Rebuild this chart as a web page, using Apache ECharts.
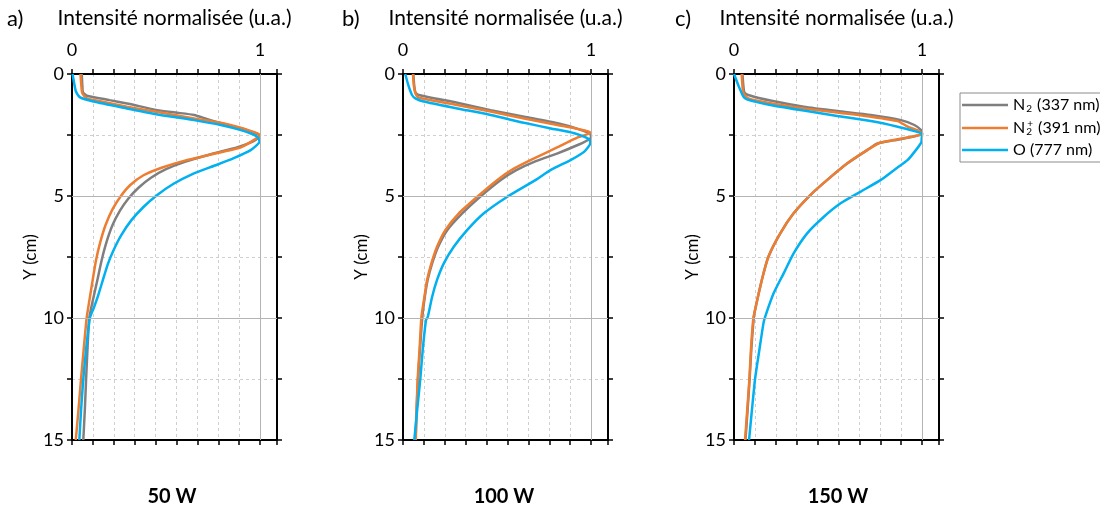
<!DOCTYPE html>
<html><head><meta charset="utf-8">
<script src="https://cdn.jsdelivr.net/npm/echarts@6/dist/echarts.min.js"></script>
<style>html,body{margin:0;padding:0;background:#fff}#c{width:1100px;height:509px}</style>
</head><body><div id="c"></div>
<script>
// ---- data: [intensity, Y (cm)] ----
const a_N2 = [[0.052,0],[0.055,0.5],[0.058,0.75],[0.079,0.89],[0.2,1.07],[0.3,1.22],[0.453,1.48],[0.55,1.58],[0.649,1.68],[0.72,1.85],[0.809,2.05],[0.898,2.22],[0.96,2.38],[0.995,2.5],[0.99,2.62],[0.961,2.77],[0.881,3.0],[0.738,3.29],[0.6,3.6],[0.5,3.9],[0.42,4.25],[0.355,4.65],[0.3,5.1],[0.255,5.6],[0.215,6.2],[0.183,6.9],[0.158,7.62],[0.135,8.44],[0.11,9.3],[0.092,10.0],[0.084,11],[0.075,12.5],[0.068,13.8],[0.06,15]];
const a_N2p = [[0.045,0],[0.05,0.5],[0.055,0.79],[0.079,1.0],[0.15,1.12],[0.292,1.34],[0.471,1.58],[0.649,1.82],[0.827,2.06],[0.952,2.34],[1.0,2.5],[0.968,2.7],[0.898,3.0],[0.738,3.3],[0.6,3.55],[0.48,3.83],[0.38,4.15],[0.31,4.55],[0.26,5.0],[0.215,5.55],[0.178,6.2],[0.15,6.9],[0.128,7.62],[0.11,8.44],[0.092,9.3],[0.078,10.0],[0.062,11.3],[0.048,12.5],[0.034,13.8],[0.02,15]];
const a_O = [[0.003,0],[0.012,0.4],[0.021,0.72],[0.043,0.96],[0.114,1.13],[0.292,1.41],[0.471,1.68],[0.649,1.89],[0.791,2.09],[0.898,2.3],[0.965,2.48],[0.988,2.6],[0.997,2.77],[0.952,3.11],[0.86,3.45],[0.76,3.75],[0.64,4.1],[0.54,4.5],[0.455,4.95],[0.38,5.45],[0.315,6.0],[0.262,6.6],[0.222,7.2],[0.19,7.8],[0.162,8.5],[0.138,9.1],[0.115,9.6],[0.095,10.0],[0.076,11.2],[0.06,12.5],[0.048,13.8],[0.039,15]];

const b_N2 = [[0.055,0],[0.06,0.5],[0.066,0.75],[0.083,0.86],[0.288,1.18],[0.466,1.48],[0.644,1.75],[0.822,2.02],[0.929,2.25],[1.0,2.5],[0.996,2.64],[0.929,2.91],[0.822,3.25],[0.697,3.6],[0.6,3.95],[0.52,4.34],[0.41,5.03],[0.315,5.71],[0.236,6.39],[0.187,7.08],[0.155,7.76],[0.131,8.44],[0.116,9.13],[0.103,9.95],[0.09,11.3],[0.08,12.5],[0.072,13.8],[0.067,15]];
const b_N2p = [[0.053,0],[0.058,0.5],[0.066,0.79],[0.083,0.96],[0.288,1.27],[0.466,1.54],[0.644,1.82],[0.822,2.09],[0.929,2.25],[1.0,2.4],[0.929,2.6],[0.822,3.0],[0.697,3.46],[0.585,3.9],[0.502,4.34],[0.395,5.03],[0.297,5.71],[0.226,6.39],[0.181,7.08],[0.151,7.76],[0.128,8.44],[0.114,9.13],[0.098,9.95],[0.088,11.3],[0.078,12.5],[0.072,13.8],[0.068,15]];
const b_O = [[0.012,0],[0.03,0.5],[0.048,0.86],[0.066,1.0],[0.11,1.13],[0.288,1.41],[0.466,1.68],[0.644,2.0],[0.786,2.23],[0.911,2.43],[0.99,2.68],[0.996,2.84],[0.964,3.18],[0.893,3.52],[0.786,3.93],[0.706,4.34],[0.555,5.03],[0.43,5.71],[0.342,6.39],[0.27,7.08],[0.217,7.76],[0.181,8.44],[0.155,9.13],[0.132,9.95],[0.122,10.1],[0.105,11.3],[0.092,12.5],[0.075,13.8],[0.06,15]];

const c_N2 = [[0.045,0],[0.05,0.5],[0.055,0.75],[0.076,0.86],[0.2,1.1],[0.371,1.34],[0.55,1.52],[0.727,1.68],[0.888,1.89],[0.959,2.09],[0.995,2.3],[1.0,2.46],[0.93,2.6],[0.85,2.72],[0.763,2.85],[0.71,3.11],[0.603,3.66],[0.496,4.34],[0.406,4.96],[0.317,5.71],[0.246,6.53],[0.183,7.49],[0.148,8.44],[0.112,9.67],[0.105,10.0],[0.092,11.3],[0.083,12.5],[0.072,13.8],[0.061,15]];
const c_N2p = [[0.041,0],[0.045,0.5],[0.05,0.79],[0.076,1.0],[0.193,1.2],[0.371,1.41],[0.549,1.58],[0.727,1.75],[0.87,1.93],[0.924,2.16],[0.979,2.32],[1.0,2.46],[0.924,2.6],[0.78,2.81],[0.71,3.11],[0.603,3.66],[0.496,4.34],[0.406,4.96],[0.317,5.71],[0.246,6.53],[0.183,7.49],[0.148,8.44],[0.112,9.67],[0.103,10.0],[0.09,11.3],[0.082,12.5],[0.07,13.8],[0.059,15]];
const c_O = [[0.0,0],[0.025,0.5],[0.05,0.93],[0.068,1.04],[0.193,1.27],[0.371,1.5],[0.549,1.72],[0.727,1.93],[0.87,2.16],[0.959,2.34],[1.0,2.46],[0.998,2.65],[0.996,2.8],[0.968,3.11],[0.924,3.52],[0.852,3.93],[0.781,4.34],[0.674,4.82],[0.567,5.3],[0.478,5.85],[0.389,6.53],[0.317,7.35],[0.264,8.17],[0.21,9.0],[0.166,9.94],[0.157,10.2],[0.135,11.3],[0.112,12.5],[0.095,13.8],[0.08,15]];

const panelData = [[a_N2, a_N2p, a_O],[b_N2, b_N2p, b_O],[c_N2, c_N2p, c_O]];
const seriesNames = ['N2', 'N2+', 'O'];
const seriesColors = ['#7f7f7f', '#ed7d31', '#00b0f0'];
const panelLetters = ['a)', 'b)', 'c)'];
const powerLabels = ['50 W', '100 W', '150 W'];
const xTitle = 'Intensité normalisée (u.a.)';
const yTitle = 'Y (cm)';
const yTicksLabelled = [0, 5, 10, 15];
const solidY = [5, 10];
const solidX = [1];

// ---- layout ----
const FONT = 'Lato, "Open Sans", sans-serif';
const gridLefts = [72, 403, 734];
const gridW = 205, gridTop = 74, gridH = 366;
const XMAX = 1.09;

const grids = [], xAxes = [], yAxes = [], series = [], graphics = [];
const axisLine = {show: true, onZero: false, lineStyle: {color: '#000', width: 2}};
const tick = {show: true, inside: false, length: 5, lineStyle: {color: '#000', width: 1.5}};
const dash = {show: true, lineStyle: {color: '#cfcfcf', width: 1, type: [3, 3]}};

gridLefts.forEach((L, i) => {
  grids.push({left: L, top: gridTop, width: gridW, height: gridH, containLabel: false});
  const xBase = {type: 'value', gridIndex: i, min: 0, max: XMAX, interval: 1/9, axisLine, axisTick: tick};
  xAxes.push(Object.assign({}, xBase, {
    position: 'top', splitLine: dash,
    axisLabel: {show: true, margin: 15, fontSize: 18, color: '#000', fontFamily: FONT,
      formatter: v => Math.abs(v) < 1e-6 ? '0' : (Math.abs(v - 1) < 1e-6 ? '1' : '')},
    name: xTitle, nameLocation: 'middle', nameGap: 45,
    nameTextStyle: {fontSize: 21, color: '#000', fontFamily: FONT}
  }));
  xAxes.push(Object.assign({}, xBase, {position: 'bottom', splitLine: {show: false}, axisLabel: {show: false}}));
  const yBase = {type: 'value', gridIndex: i, min: 0, max: 15, interval: 2.5, inverse: true, axisLine, axisTick: tick};
  yAxes.push(Object.assign({}, yBase, {
    position: 'left', splitLine: dash,
    axisLabel: {show: true, margin: 8, fontSize: 18, color: '#000', fontFamily: FONT,
      formatter: v => yTicksLabelled.indexOf(v) >= 0 ? String(v) : ''},
    name: yTitle, nameLocation: 'middle', nameGap: 19, nameRotate: 90,
    nameTextStyle: {fontSize: 17, color: '#000', fontFamily: FONT}
  }));
  yAxes.push(Object.assign({}, yBase, {position: 'right', splitLine: {show: false}, axisLabel: {show: false}}));

  // solid reference grid lines
  series.push({
    type: 'line', xAxisIndex: 2*i, yAxisIndex: 2*i, data: [], z: 1, silent: true,
    markLine: {silent: true, symbol: 'none', label: {show: false}, animation: false,
      lineStyle: {color: '#b4b4b4', width: 1, type: 'solid'},
      data: solidX.map(v => ({xAxis: v})).concat(solidY.map(v => ({yAxis: v})))}
  });
  panelData[i].forEach((d, k) => {
    series.push({
      type: 'line', name: seriesNames[k], xAxisIndex: 2*i, yAxisIndex: 2*i,
      data: d, showSymbol: false, symbol: 'none', smooth: 0.2, z: 3 - (k === 0 ? 0.5 : 0),
      lineStyle: {color: seriesColors[k], width: 2.5}, itemStyle: {color: seriesColors[k]},
      animation: false
    });
  });
  graphics.push({type: 'text', left: [7, 342, 675][i], top: 8,
    style: {text: panelLetters[i], fontSize: 22, fill: '#000', fontFamily: FONT}});
  graphics.push({type: 'text', x: [172, 504, 838][i], y: 497,
    style: {text: powerLabels[i], fontSize: 20, fontWeight: 'bold', fill: '#000', fontFamily: FONT,
      align: 'center', verticalAlign: 'middle'}});
});

const legendText = {
  'N2': '{n|N}{sb|2}{t| (337 nm)}',
  'N2+': '{n|N}{sbz|2}{sp|+}{t| (391 nm)}',
  'O': '{t|O (777 nm)}'
};

const chart = echarts.init(document.getElementById('c'), null, {renderer: 'canvas'});
chart.setOption({
  animation: false,
  backgroundColor: '#fff',
  grid: grids, xAxis: xAxes, yAxis: yAxes, series: series,
  graphic: graphics,
  legend: {
    data: seriesNames, orient: 'vertical', left: 960, top: 93,
    icon: 'rect', itemWidth: 46, itemHeight: 2.5, itemGap: 5,
    padding: [4, 3, 4, 2], borderColor: '#8c8c8c', borderWidth: 1,
    formatter: n => legendText[n],
    textStyle: {fontSize: 16, color: '#000', fontFamily: FONT,
      rich: {
        n: {fontSize: 16, lineHeight: 18, fontFamily: FONT},
        t: {fontSize: 16, lineHeight: 18, fontFamily: FONT},
        sb: {fontSize: 10, verticalAlign: 'bottom', lineHeight: 12, fontFamily: FONT, padding: [0, 1, 0, 1]},
        sbz: {fontSize: 10, verticalAlign: 'bottom', lineHeight: 12, width: 1, fontFamily: FONT, padding: [0, 0, 0, 1]},
        sp: {fontSize: 10, verticalAlign: 'top', lineHeight: 12, fontFamily: FONT, padding: [0, 1, 0, 0]}
      }}
  }
});
</script></body></html>
